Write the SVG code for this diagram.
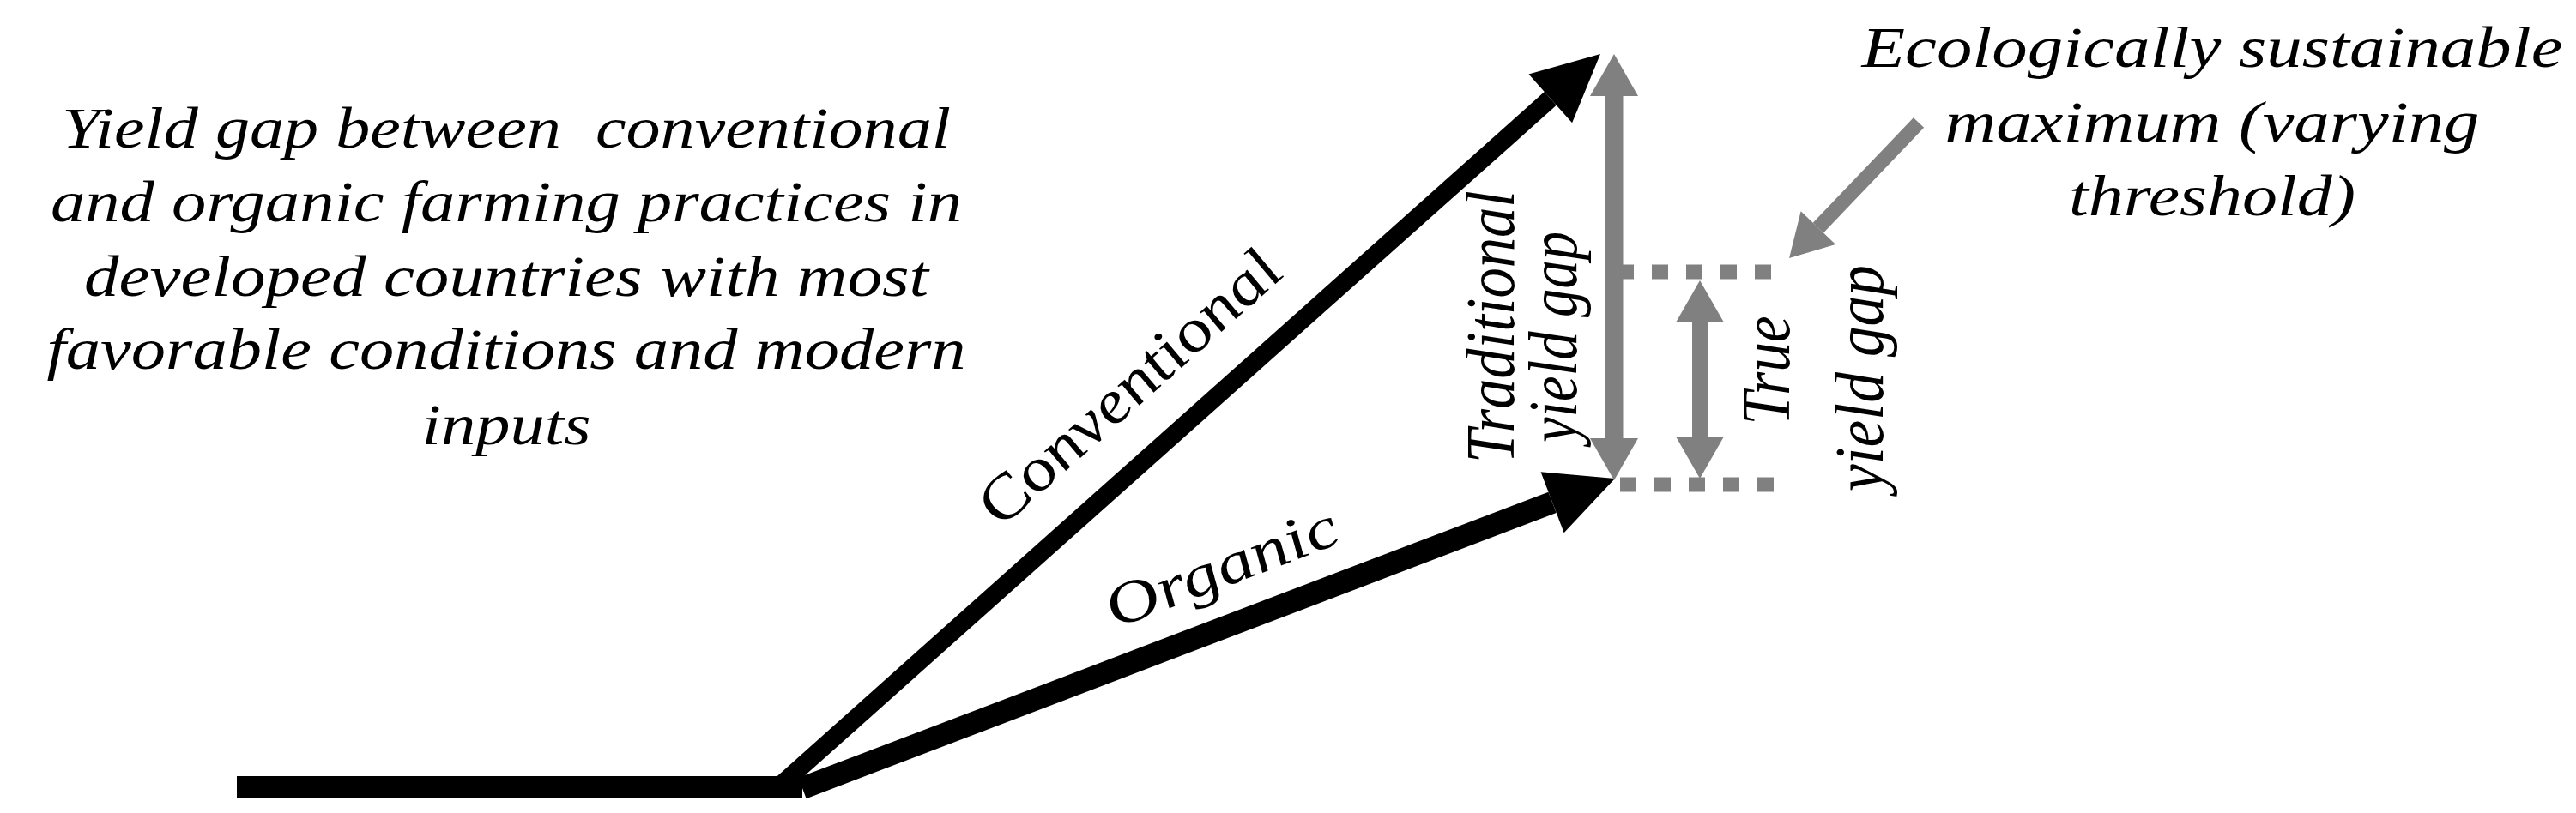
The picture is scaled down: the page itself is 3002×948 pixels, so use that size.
<svg xmlns="http://www.w3.org/2000/svg" width="3002" height="948" viewBox="0 0 3002 948" font-family="Liberation Serif">
<style>
.blk{stroke:#000;fill:none;stroke-linecap:butt}
.gry{stroke:#808080;fill:none;stroke-linecap:butt}
.dash{stroke:#808080;stroke-width:17;stroke-dasharray:19 21;fill:none}
</style>
<defs>
<marker id="hb" markerUnits="userSpaceOnUse" orient="auto" refX="0" refY="0" markerWidth="80" markerHeight="80" overflow="visible">
<path d="M0,-38 L78,0 L0,38 Z" fill="#000"/>
</marker>
<marker id="hg" markerUnits="userSpaceOnUse" orient="auto-start-reverse" refX="0" refY="0" markerWidth="60" markerHeight="60" overflow="visible">
<path d="M0,-28 L49,0 L0,28 Z" fill="#808080"/>
</marker>
</defs>
<rect width="3002" height="948" fill="#fff"/>
<g id="connectors">
<rect id="baseline" x="276" y="905" width="659" height="25" fill="#000"/>
<line id="conventional-arrow" class="blk" x1="908" y1="917" x2="1806.8" y2="114.9" stroke-width="21" marker-end="url(#hb)"/>
<line id="organic-arrow" class="blk" x1="935" y1="919" x2="1809.1" y2="585.8" stroke-width="26" marker-end="url(#hb)"/>
<line id="max-dash" class="dash" x1="1885" y1="317" x2="2064" y2="317"/>
<line id="org-dash" class="dash" x1="1888" y1="565" x2="2067" y2="565"/>
<line id="traditional-gap" class="gry" x1="1881" y1="112" x2="1881" y2="511" stroke-width="21" marker-start="url(#hg)" marker-end="url(#hg)"/>
<line id="true-gap" class="gry" x1="1981" y1="376" x2="1981" y2="509" stroke-width="18" marker-start="url(#hg)" marker-end="url(#hg)"/>
<line id="eco-pointer" class="gry" x1="2236" y1="143" x2="2118.9" y2="265.6" stroke-width="17" marker-end="url(#hg)"/>
</g>
<g id="labels" font-family="Liberation Serif" font-style="italic" font-size="68" fill="#000" text-anchor="middle">
<g id="yield-gap-note">
<text xml:space="preserve" x="590" y="172" textLength="1036" lengthAdjust="spacingAndGlyphs">Yield gap between  conventional</text>
<text x="590" y="258" textLength="1062" lengthAdjust="spacingAndGlyphs">and organic farming practices in</text>
<text x="590" y="345" textLength="984" lengthAdjust="spacingAndGlyphs">developed countries with most</text>
<text x="590" y="430" textLength="1071" lengthAdjust="spacingAndGlyphs">favorable conditions and modern</text>
<text x="590" y="518" textLength="197" lengthAdjust="spacingAndGlyphs">inputs</text>
</g>
<g id="eco-max-label">
<text x="2578" y="78" textLength="817" lengthAdjust="spacingAndGlyphs">Ecologically sustainable</text>
<text x="2578" y="164.5" textLength="623" lengthAdjust="spacingAndGlyphs">maximum (varying</text>
<text x="2578" y="251" textLength="334" lengthAdjust="spacingAndGlyphs">threshold)</text>
</g>
<g id="conventional-label">
<text transform="translate(1334,467) scale(1.18,1) rotate(-46.48)" textLength="408.6" lengthAdjust="spacingAndGlyphs">Conventional</text>
</g>
<g id="organic-label">
<text transform="translate(1434,682) scale(1.18,1) rotate(-24.22)" textLength="246.6" lengthAdjust="spacingAndGlyphs">Organic</text>
</g>
<g id="traditional-label">
<text transform="translate(1764,381) scale(1.18,1) rotate(-90)" textLength="318" lengthAdjust="spacingAndGlyphs">Traditional</text>
<text transform="translate(1837,393) scale(1.18,1) rotate(-90)" textLength="246" lengthAdjust="spacingAndGlyphs">yield gap</text>
</g>
<g id="true-label">
<text transform="translate(2085,432) scale(1.18,1) rotate(-90)" textLength="127" lengthAdjust="spacingAndGlyphs">True</text>
<text transform="translate(2194,441) scale(1.18,1) rotate(-90)" textLength="264" lengthAdjust="spacingAndGlyphs">yield gap</text>
</g>
</g>
</svg>
